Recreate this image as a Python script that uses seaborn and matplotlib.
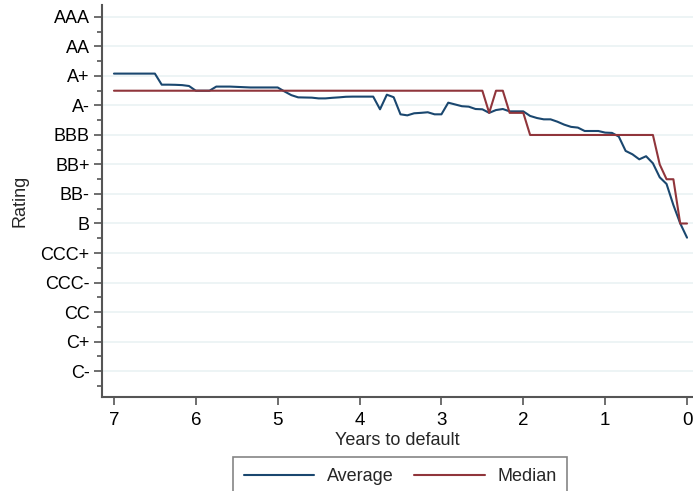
import numpy as np
import pandas as pd
import matplotlib
matplotlib.use("Agg")
import matplotlib.pyplot as plt
import seaborn as sns
from matplotlib.ticker import FixedLocator

# ---- data ----
months_to_default = list(range(84, -1, -1))  # 84 .. 0
average = [4.84, 4.84, 4.84, 4.84, 4.84, 4.84, 4.84, 5.59, 5.59, 5.60, 5.62, 5.68, 6.00,
           6.00, 6.00, 5.72, 5.72, 5.72, 5.74, 5.76, 5.78, 5.78, 5.78, 5.78, 5.78,
           6.05, 6.30, 6.45, 6.46, 6.47, 6.52, 6.52, 6.48, 6.45, 6.41, 6.40, 6.40,
           6.40, 6.40, 7.26, 6.27, 6.44, 7.60, 7.67, 7.53, 7.50, 7.46, 7.60, 7.60,
           6.81, 6.93, 7.05, 7.08, 7.24, 7.26, 7.50, 7.31, 7.24, 7.40, 7.40, 7.40,
           7.71, 7.85, 7.94, 7.94, 8.10, 8.30, 8.45, 8.50, 8.73, 8.73, 8.73, 8.84,
           8.86, 9.11, 10.08, 10.31, 10.65, 10.44, 10.92, 11.87, 12.32, 13.75, 14.99, 15.96]
median = [6.0] * 55 + [7.5, 6.0, 6.0, 7.5, 7.5, 7.5] + [9.0] * 19 + [11.0, 12.0, 12.0, 15.0, 15.0]

rating_labels = ["AAA", "AA", "A+", "A-", "BBB", "BB+", "BB-", "B",
                 "CCC+", "CCC-", "CC", "C+", "C-"]
rating_positions = [1, 3, 5, 7, 9, 11, 13, 15, 17, 19, 21, 23, 25]
minor_positions = [2, 4, 6, 8, 10, 12, 14, 16, 18, 20, 22, 24, 26]
year_ticks = [7, 6, 5, 4, 3, 2, 1, 0]

years = np.array(months_to_default) / 12.0
df = pd.concat([
    pd.DataFrame({"Years": years, "Rating": average, "Series": "Average"}),
    pd.DataFrame({"Years": years, "Rating": median, "Series": "Median"}),
])

# ---- style ----
sns.set_theme(style="white")
plt.rcParams["font.family"] = ["Liberation Sans", "DejaVu Sans"]
FS = 13

fig = plt.figure(figsize=(6.93, 4.91), dpi=100)
ax = fig.add_axes([102 / 693, 1 - 397 / 491, 1 - 102 / 693, (397 - 5) / 491])

palette = {"Average": "#1a476f", "Median": "#90353b"}
sns.lineplot(data=df, x="Years", y="Rating", hue="Series", palette=palette,
             linewidth=1.5, ax=ax, legend=False, sort=False, estimator=None)

ax.set_xlim(7.146, -0.073)
ax.set_ylim(26.76, 0.19)

ax.set_yticks(rating_positions)
ax.set_yticklabels(rating_labels, fontsize=FS)
ax.yaxis.set_minor_locator(FixedLocator(minor_positions))
ax.set_xticks(year_ticks)
ax.set_xticklabels([str(v) for v in year_ticks], fontsize=13.5)

ax.tick_params(axis="x", which="major", direction="out", length=6, width=1.2,
               color="#555555", pad=4.5, labelcolor="black", bottom=True)
ax.tick_params(axis="y", which="major", direction="out", length=6, width=1.2,
               color="#555555", pad=3, labelcolor="black", left=True)
ax.tick_params(axis="y", which="minor", direction="out", length=3.5, width=1.2,
               color="#555555", left=True)
ax.tick_params(axis="x", which="minor", bottom=False)

ax.grid(axis="y", which="major", color="#eaf2f3", linewidth=1.2)
ax.grid(axis="x", visible=False)
ax.set_axisbelow(True)

for side in ["top", "right"]:
    ax.spines[side].set_visible(False)
for side in ["left", "bottom"]:
    ax.spines[side].set_color("#555555")
    ax.spines[side].set_linewidth(1.5)

ax.set_xlabel("Years to default", fontsize=FS)
ax.set_ylabel("Rating", fontsize=FS)
ax.xaxis.set_label_coords(0.5, (397 - 432) / 392)
ax.yaxis.set_label_coords((28 - 102) / 591, 0.5)

handles = [plt.Line2D([], [], color=palette["Average"], linewidth=1.5),
           plt.Line2D([], [], color=palette["Median"], linewidth=1.5)]
leg = fig.legend(handles, ["Average", "Median"], loc="upper center",
                 bbox_to_anchor=(400 / 693, 1 - 457 / 491), ncol=2,
                 fontsize=FS, frameon=True, fancybox=False, handlelength=3.9,
                 handletextpad=0.7, columnspacing=1.15, borderpad=0.6,
                 borderaxespad=0)
leg.get_frame().set_edgecolor("#666666")
leg.get_frame().set_linewidth(1.2)

fig.savefig("out.png", dpi=100)
